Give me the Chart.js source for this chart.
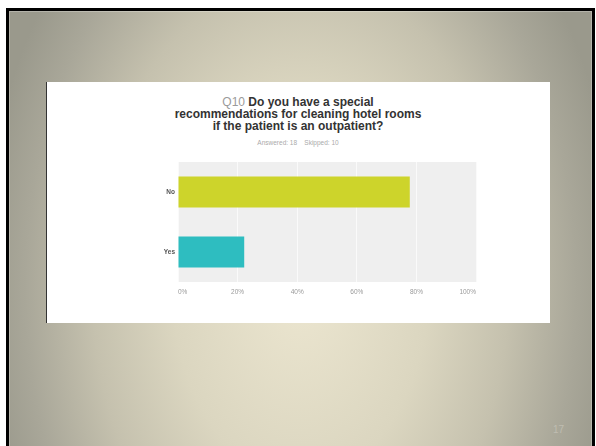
<!DOCTYPE html>
<html>
<head>
<meta charset="utf-8">
<script src="https://cdn.jsdelivr.net/npm/chart.js@4/dist/chart.umd.min.js"></script>
<style>
  html, body { margin: 0; padding: 0; width: 596px; height: 446px; overflow: hidden; background: #fff; }
  body { position: relative; font-family: "Liberation Sans", Arial, sans-serif; }
  #slide {
    position: absolute; left: 6px; top: 8px; width: 583px; height: 460px;
    border: 3px solid #000; border-bottom: none;
    background: radial-gradient(ellipse 320px 480px at 50% 60%, #ece6d0 0%, #dbd6c0 40%, #c5c1ae 65%, #a9a799 86%, #9a998c 100%);
    box-shadow: inset 0 0 0 1px rgba(255,255,255,0.25);
  }
  #card {
    position: absolute; left: 46px; top: 82px; width: 503px; height: 241px;
    background: #fff; border-left: 1px solid #333;
  }
  #title {
    position: absolute; left: 46px; top: 96px; width: 504px;
    text-align: center; font-size: 12px; line-height: 12.2px; font-weight: bold; color: #333;
  }
  #title .q { font-weight: normal; color: #9a9a9a; }
  #sub {
    position: absolute; left: 46px; top: 139px; width: 504px;
    text-align: center; font-size: 6.5px; color: #aaa; white-space: pre;
  }
  #chart { position: absolute; left: 130px; top: 155px; }
  #pageNo { position: absolute; left: 553px; top: 424px; font-size: 10px; color: #bfbdb1; }
</style>
</head>
<body>
<div id="slide"></div>
<div id="card"></div>
<div id="title"><span class="q">Q10</span> Do you have a special<br>recommendations for cleaning hotel rooms<br>if the patient is an outpatient?</div>
<div id="sub">Answered: 18    Skipped: 10</div>
<canvas id="chart" width="360" height="150"></canvas>
<div id="pageNo">17</div>
<script>
const categories = ['No', 'Yes'];
const percentages = [77.78, 22.22];
const barColors = ['#cdd42b', '#2ebdc0'];

// light grey panel behind the bars
const plotBackground = {
  id: 'plotBackground',
  beforeDraw(chart) {
    const { ctx, chartArea: a } = chart;
    ctx.save();
    ctx.fillStyle = '#efefef';
    ctx.fillRect(a.left, a.top, a.right - a.left, a.bottom - a.top);
    ctx.restore();
  }
};

new Chart(document.getElementById('chart'), {
  type: 'bar',
  data: {
    labels: categories,
    datasets: [{
      data: percentages,
      backgroundColor: barColors,
      barPercentage: 1,
      categoryPercentage: 0.52
    }]
  },
  options: {
    indexAxis: 'y',
    responsive: false,
    animation: false,
    layout: { padding: { top: 7, right: 14, left: 0, bottom: 0 } },
    plugins: { legend: { display: false }, tooltip: { enabled: false } },
    scales: {
      x: {
        min: 0,
        max: 100,
        afterFit: s => { s.height = 23; },
        border: { display: false },
        grid: { color: '#fafafa', lineWidth: 1, drawTicks: false },
        ticks: {
          stepSize: 20,
          align: 'inner',
          padding: 6,
          color: '#9a9a9a',
          font: { family: 'Liberation Sans', size: 6.5 },
          callback: v => v + '%'
        }
      },
      y: {
        afterFit: s => { s.width = 48; },
        border: { display: false },
        grid: { display: false, drawTicks: false },
        ticks: {
          padding: 3,
          color: '#555',
          font: { family: 'Liberation Sans', size: 6.5, weight: 'bold' }
        }
      }
    }
  },
  plugins: [plotBackground]
});
</script>
</body>
</html>
